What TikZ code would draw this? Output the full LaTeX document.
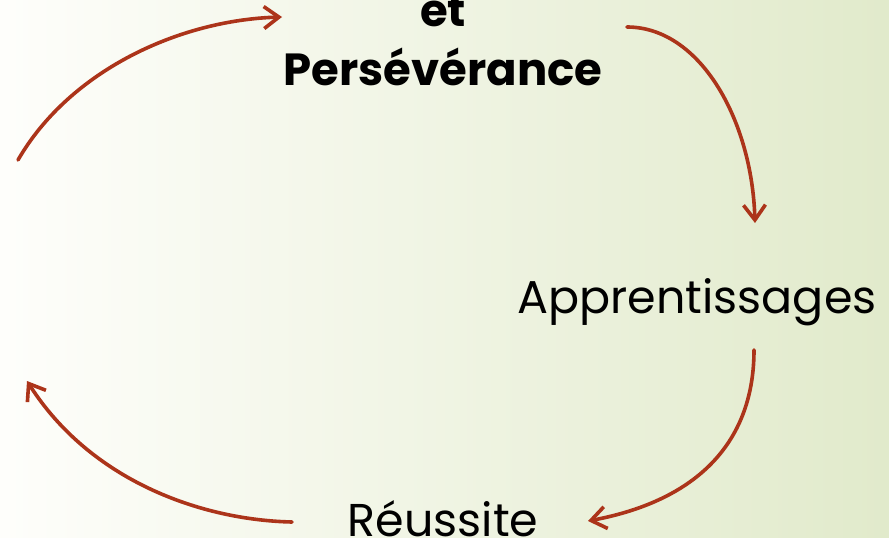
\documentclass[tikz,border=0pt]{standalone}
\usepackage{fontspec}
\setmainfont{Poppins}
\usetikzlibrary{arrows.meta}
\definecolor{arrowred}{RGB}{172,52,26}
\definecolor{bgleft}{RGB}{254,254,251}
\definecolor{bgmid}{RGB}{242,245,232}
\definecolor{bgright}{RGB}{225,234,203}
\tikzset{
  label text/.style={inner sep=0pt, anchor=base, text=black, font=\fontsize{46}{50}\selectfont},
  bold text/.style={label text, font=\fontsize{45}{50}\selectfont\bfseries},
  cycle arrow/.style={draw=arrowred, line width=3.6pt, line cap=round,
    -{Straight Barb[length=15pt,width=22pt,line width=3.6pt]}}
}
\begin{document}
\begin{tikzpicture}[x=1pt,y=-1pt]
\useasboundingbox (0,0) rectangle (889,538);
\clip (0,0) rectangle (889,538);
\shade[left color=bgleft, middle color=bgmid, right color=bgright] (0,0) rectangle (889,538);
% texts
\node[bold text] (et) at (443,27) {et};
\node[bold text] (pers) at (443,85) {Persévérance};
\node[label text] (appr) at (697,313) {Apprentissages};
\node[label text] (reus) at (443,536) {Réussite};
% arrow ends
\coordinate (a1s) at (18,160);
\coordinate (a1e) at (282,17);
\coordinate (a2s) at (627,27);
\coordinate (a2e) at (755,223);
\coordinate (a3s) at (754,350);
\coordinate (a3e) at (588,521);
\coordinate (a4s) at (292,522);
\coordinate (a4e) at (27,381);
\draw[cycle arrow] (a1s) .. controls (70,70) and (180,20) .. (a1e);
\draw[cycle arrow] (a2s) .. controls (700,27) and (752,120) .. (a2e);
\draw[cycle arrow] (a3s) .. controls (754,440) and (700,500) .. (a3e);
\draw[cycle arrow] (a4s) .. controls (200,520) and (90,480) .. (a4e);
\end{tikzpicture}
\end{document}
